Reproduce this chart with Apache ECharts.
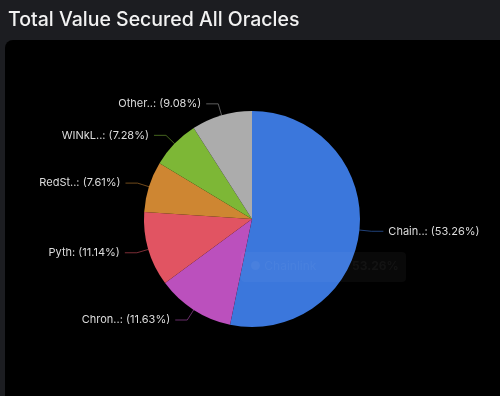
<!DOCTYPE html>
<html>
<head>
    <title>Total Value Secured All Oracles</title>
    <script src="https://cdn.jsdelivr.net/npm/echarts@6.0.0/dist/echarts.min.js"></script>
    <style>
        body { margin: 0; background: #1c1d21; overflow: hidden; }
        #chart { width: 500px; height: 396px; }
    </style>
</head>
<body>
    <div id="chart"></div>
    <script>
        // oracle shares (%), clockwise from 12 o'clock
        const oracleNames = ['Chainlink', 'Chronicle', 'Pyth', 'RedStone', 'WINkLink', 'Others'];
        const oracleShares = [53.26, 11.63, 11.14, 7.61, 7.28, 9.08];
        const sliceColors = ['#3b77dc', '#bb50bd', '#e15462', '#ce8632', '#7db736', '#acacac'];

        const chart = echarts.init(document.getElementById('chart'));

        function shortName(name) {
            return name.length > 5 ? name.slice(0, 5) + '..' : name;
        }

        chart.setOption({
            backgroundColor: '#1c1d21',
            animation: false,
            title: {
                text: 'Total Value Secured All Oracles',
                left: 3,
                top: 5,
                textStyle: {
                    color: '#f2f2f2',
                    fontFamily: 'Inter',
                    fontSize: 19.5,
                    fontWeight: 500
                }
            },
            graphic: [
                {
                    type: 'rect',
                    z: -10,
                    shape: { x: 5, y: 40, width: 520, height: 380, r: 8 },
                    style: { fill: '#000000' }
                },
                {
                    type: 'rect',
                    z: 100,
                    shape: { x: 241, y: 252, width: 165, height: 30, r: 4 },
                    style: { fill: 'rgba(255,255,255,0.035)' }
                },
                {
                    type: 'text',
                    z: 101,
                    left: 250,
                    top: 260,
                    style: {
                        text: '● Chainlink',
                        fill: 'rgba(255,255,255,0.045)',
                        font: '12px Inter'
                    }
                },
                {
                    type: 'text',
                    z: 101,
                    left: 352,
                    top: 260,
                    style: {
                        text: '53.26%',
                        fill: 'rgba(255,255,255,0.045)',
                        font: 'bold 12px Inter'
                    }
                }
            ],
            series: [{
                type: 'pie',
                center: [252, 219],
                radius: 108,
                startAngle: 90,
                clockwise: true,
                data: oracleNames.map((n, i) => ({
                    name: n,
                    value: oracleShares[i],
                    itemStyle: { color: sliceColors[i] }
                })),
                label: {
                    color: '#dcdcdc',
                    fontFamily: 'Inter',
                    fontSize: 11,
                    formatter: p => shortName(p.name) + ': (' + p.value.toFixed(2) + '%)'
                },
                labelLine: {
                    length: 12,
                    length2: 12,
                    lineStyle: { width: 1, opacity: 0.55 }
                },
                itemStyle: { borderWidth: 0 }
            }]
        });
    </script>
</body>
</html>
